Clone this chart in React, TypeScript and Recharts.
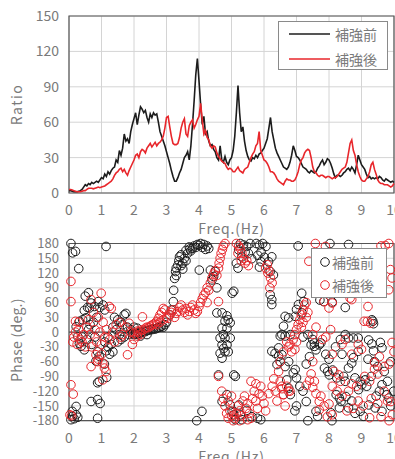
import { CartesianGrid, Legend, Line, LineChart, ReferenceArea, ReferenceLine, Scatter, ScatterChart, XAxis, YAxis } from "recharts"

const FONT = '"Noto Sans CJK JP", "Noto Sans", sans-serif'
const BLACK = "#1c1c1c"
const RED = "#e8262b"
const GRID = "#d4d4d4"
const FRAME = "#555555"
const TEXT = "#7a7a7a"

const seriesNames = ["補強前", "補強後"]
const freqTicks = [0, 1, 2, 3, 4, 5, 6, 7, 8, 9, 10]
const ratioTicks = [0, 30, 60, 90, 120, 150]
const phaseTicks = [-180, -150, -120, -90, -60, -30, 0, 30, 60, 90, 120, 150, 180]

// spectral ratio, sampled every 0.05 Hz from 0 to 10 Hz (one row per Hz)
const ratioStep = 0.05
const ratioBefore = [
  2, 2, 1.5, 1, 1, 1, 1.5, 2, 3, 5, 7, 6, 8, 7, 9, 8, 9, 10, 9, 11,
  13, 12, 16, 14, 18, 16, 19, 21, 22, 28, 26, 36, 32, 38, 50, 44, 46, 42, 52, 58,
  63, 68, 58, 66, 73, 71, 68, 70, 64, 60, 67, 64, 68, 66, 67, 60, 52, 48, 44, 40,
  35, 30, 25, 19, 14, 10, 10, 13, 17, 20, 25, 30, 32, 35, 28, 40, 58, 78, 100, 114,
  95, 75, 58, 65, 50, 52, 44, 40, 41, 37, 35, 30, 28, 40, 28, 26, 31, 26, 24, 28,
  30, 36, 48, 68, 91, 68, 52, 56, 44, 36, 31, 28, 27, 30, 29, 32, 30, 33, 34, 36,
  38, 42, 46, 55, 64, 52, 45, 38, 34, 31, 28, 25, 22, 21, 20, 22, 26, 32, 40, 36,
  31, 30, 28, 25, 22, 21, 20, 18, 17, 19, 18, 17, 18, 21, 23, 26, 28, 24, 26, 29,
  28, 25, 21, 16, 13, 15, 15, 14, 15, 17, 18, 20, 21, 19, 22, 20, 17, 24, 32, 28,
  24, 22, 20, 16, 13, 14, 12, 13, 12, 13, 12, 14, 13, 11, 10, 12, 11, 10, 9, 10,
  9,
]
const ratioAfter = [
  3, 3, 2.5, 2, 1.5, 1, 1, 1, 1.5, 2, 2, 3, 4, 4, 4, 3.5, 4, 4.5, 5, 4.5,
  5, 5.5, 6, 7, 8, 9, 10, 12, 15, 17, 18, 20, 21, 18, 20, 17, 15, 19, 22, 25,
  28, 32, 33, 30, 35, 37, 36, 34, 38, 40, 42, 39, 41, 43, 40, 42, 43, 45, 48, 55,
  64, 65, 56, 48, 42, 41, 41, 42, 47, 55, 60, 63, 50, 48, 57, 60, 62, 55, 58, 62,
  65, 76, 62, 50, 53, 47, 45, 40, 38, 40, 39, 34, 31, 29, 27, 26, 25, 22, 20, 21,
  20, 18, 18, 20, 22, 19, 18, 17, 20, 21, 22, 26, 30, 33, 35, 40, 42, 52, 36, 32,
  28, 27, 25, 22, 18, 18, 17, 15, 12, 10, 9, 8, 7, 10, 12, 11, 11, 10, 10, 11,
  14, 18, 24, 28, 30, 34, 36, 37, 36, 30, 22, 18, 17, 15, 14, 15, 15, 14, 13, 14,
  14, 13, 12, 13, 13, 14, 16, 18, 20, 21, 22, 26, 34, 42, 45, 36, 32, 24, 18, 14,
  11, 10, 10, 12, 14, 18, 24, 26, 20, 16, 11, 9, 8, 8, 7, 7, 7, 6, 5, 6,
  8,
]

// phase points [freq, deg]
const phaseBeforeLow = [
  [0.06, 180], [0.11, 161], [0.2, 164], [0.3, 129], [1.14, 174],
  [0.06, -178], [0.1, -161], [0.22, -151], [0.22, -168], [0.11, -171], [0.27, -173], [0.16, -176],
  [0.5, 73], [0.6, 80], [0.68, 59], [0.57, 50], [0.47, 44], [0.63, 49], [0.78, 52], [0.9, 62], [0.95, 50], [1.05, 55], [1.1, 45],
  [0.32, 22], [0.42, 25], [0.52, 29], [0.22, 11], [0.27, -9], [0.37, -29], [0.47, -36], [0.32, -23], [0.4, -10], [0.55, -15],
  [0.6, 5], [0.7, -25], [0.8, -10], [0.65, 15], [0.75, 20], [0.85, 30],
  [1.1, -20], [1.2, -30], [1.15, -38], [1.25, -45], [1.35, -40], [1.3, -25], [1.2, -10],
  [0.93, -49], [1.09, -65], [0.83, -59], [0.88, -40],
  [1.16, -92], [0.93, -100], [0.88, -103],
  [0.68, -141], [0.88, -137], [0.96, -145], [0.88, -175],
  [1.4, 30], [1.5, 25], [1.6, 20], [1.7, 35], [1.75, 38], [1.65, 15], [1.8, 10], [1.9, 5], [1.45, 5],
  [1.55, -5], [1.35, 10], [1.7, -10], [1.85, -5], [1.95, -3], [1.6, -15], [1.5, -20],
  [2.0, -5], [2.05, -3], [2.1, -4], [2.15, -1], [2.2, -2], [2.25, 0], [2.3, 2], [2.35, 1], [2.4, 3], [2.45, 4],
  [2.5, 5], [2.55, 5], [2.6, 7], [2.65, 6], [2.7, 8], [2.75, 9], [2.8, 10], [2.85, 12], [2.9, 10], [2.95, 15],
  [2.2, -8], [2.4, -5], [2.1, 8], [2.0, 10],
]
const phaseBeforeMid = [
  [3.0, 20], [3.1, 35], [3.15, 45], [3.21, 62], [3.22, 85], [3.25, 109], [3.28, 123], [3.3, 115], [3.35, 136], [3.38, 145],
  [3.4, 153], [3.45, 157], [3.5, 140], [3.55, 150], [3.6, 166], [3.65, 160], [3.7, 173], [3.72, 169], [3.75, 165], [3.8, 170],
  [3.85, 175], [3.9, 172], [3.95, 178], [4.0, 176], [4.05, 180], [4.1, 172], [4.15, 178], [4.2, 168], [4.25, 175], [4.3, 170],
  [3.5, 128], [3.6, 145], [3.45, 135], [3.3, 130], [4.01, 126], [3.93, -180],
  [4.35, 126], [4.4, 106], [4.45, 113], [4.5, 123], [4.55, 90], [5.02, 79], [5.07, 83],
  [4.55, 39], [4.71, 39], [4.86, 33], [4.9, 25], [4.8, 22], [4.96, 19], [4.86, 8], [4.71, 8], [4.75, -5], [4.65, -12],
  [4.8, -12], [4.96, -12], [4.86, -26], [4.71, -26], [4.76, -33], [4.8, -40], [4.9, -40], [4.65, -43], [4.71, -53],
  [4.6, -87], [5.07, -87], [5.12, -90],
  [5.27, 180], [5.37, 177], [5.47, 174], [5.57, 180], [5.42, 163], [5.32, 153], [5.62, 149], [5.22, 167], [5.52, 160],
  [5.76, 180], [5.86, 177], [5.96, 180], [6.06, 174], [5.91, 163], [5.81, 156], [5.91, 143], [5.86, 132], [6.01, 152],
  [6.14, 143], [6.24, 153], [6.19, 123], [6.29, 116], [6.19, 76], [6.24, 66], [6.24, 56], [5.15, 140], [5.2, 130],
  [4.09, -161], [4.71, -141], [4.86, -127], [4.96, -148], [5.02, -161], [5.07, -168], [5.22, -148], [5.27, -168],
  [5.12, -178], [5.32, -178], [5.47, -159], [5.63, -172], [5.8, -175], [5.9, -178],
  [6.24, -39], [6.34, -43], [6.45, -49], [6.5, -60], [6.4, -66], [6.45, -32], [6.5, -8],
]
const phaseBeforeHigh = [
  [7.05, 175], [8.03, 180], [8.6, 178], [7.16, 79], [7.22, 62], [7.06, 56], [7.0, 46], [7.17, 39], [6.96, 32], [6.65, 32],
  [6.76, 29], [6.6, 12], [7.72, 65], [7.84, 62], [8.1, 61], [8.5, 50], [9.32, 25], [9.37, 17], [9.35, 22],
  [6.55, -5], [6.65, -8], [6.81, -5], [7.2, -10], [7.35, -5], [7.5, -15], [7.55, -22], [7.55, -29], [7.6, -36], [7.7, -26],
  [7.75, -22], [7.45, -26], [8.35, -15], [8.5, -5], [8.6, -12], [8.75, -12], [8.9, -12], [9.22, -16], [9.32, -24], [9.37, -38],
  [8.75, -52], [8.7, -63], [8.6, -73], [8.9, -39], [6.55, -46], [6.76, -60], [6.65, -70],
  [7.86, -73], [7.96, -80], [8.01, -87], [8.11, -77], [8.24, -93], [6.9, -83], [6.96, -76], [7.0, -93],
  [8.8, -93], [8.96, -100], [9.01, -107], [8.91, -117], [9.11, -97], [9.16, -110],
  [8.22, -127], [8.32, -134], [8.37, -141], [8.52, -131], [9.63, -107], [9.78, -127], [9.84, -134], [9.99, -120],
  [7.3, -141], [7.6, -161], [7.65, -171], [8.06, -164], [8.32, -154], [8.6, -154], [8.96, -161], [9.06, -171],
  [9.22, -148], [9.42, -154], [9.63, -161], [7.35, -180], [8.09, -180], [6.7, -97], [6.76, -114], [6.81, -127],
  [9.58, -21], [9.63, -32], [9.4, -60], [9.5, -70], [9.7, -80], [9.9, -60], [9.2, -55], [8.4, -45], [8.2, -30],
  [7.9, -45], [8.0, -55], [7.4, -50], [7.3, -65], [7.1, -110], [7.2, -120], [7.0, -150], [6.95, -160], [9.8, -100],
  [9.9, -150], [9.45, -130], [9.55, -120], [8.7, -140], [8.8, -165], [9.3, -90], [8.45, -90], [8.5, -100],
]
const phaseAfterLow = [
  [0.06, 103], [0.06, 62], [0.06, -107], [0.13, -126], [0.03, -168], [0.08, -170],
  [0.68, 66], [0.99, 79], [1.24, 52], [1.3, 48], [0.75, 40], [0.9, 30], [1.05, 20], [0.6, 25],
  [0.2, 22], [0.3, 5], [0.15, -10], [0.25, -25], [0.35, -15], [0.45, -5], [0.55, 10], [0.65, -5], [0.8, 5], [0.95, 0],
  [1.1, -10], [0.5, -30], [0.4, -20], [0.7, -30], [0.85, -20], [1.0, -25], [1.15, 5], [1.25, -15], [1.35, 0], [1.45, 15],
  [1.55, 20], [1.65, -5], [1.75, 10], [1.85, 18], [1.4, -20], [1.6, -10], [0.3, 20], [0.2, 0], [0.12, -20],
  [0.68, -70], [0.83, -46], [0.88, -60], [1.04, -63], [1.09, -73], [1.14, -80], [1.04, -97], [0.9, -55], [1.0, -45],
  [1.8, -46], [1.95, -25], [2.0, -15], [1.9, 0], [2.26, 31],
  [2.0, -2], [2.1, 2], [2.15, 0], [2.2, 4], [2.3, 5], [2.35, 8], [2.4, 10], [2.45, 9], [2.5, 12], [2.55, 14],
  [2.6, 16], [2.65, 18], [2.7, 22], [2.75, 28], [2.8, 35], [2.85, 40], [2.9, 48], [2.95, 45], [2.8, 20], [2.9, 25],
  [2.7, 15], [3.0, 30], [2.1, -8], [2.2, -5],
]
const phaseAfterMid = [
  [3.05, 28], [3.1, 35], [3.15, 40], [3.2, 45], [3.25, 30], [3.3, 38], [3.35, 42], [3.4, 50], [3.45, 55], [3.5, 45],
  [3.55, 40], [3.6, 48], [3.65, 35], [3.7, 42], [3.75, 50], [3.8, 55], [3.85, 45], [3.9, 38], [3.95, 42], [4.0, 52],
  [4.05, 60], [4.1, 68], [4.15, 75], [4.2, 80], [4.25, 90], [4.3, 85], [4.35, 100], [4.4, 110], [4.45, 118], [4.5, 125],
  [4.55, 115], [4.6, 130], [4.62, 140], [4.65, 150], [4.68, 160], [4.72, 168], [4.75, 175], [4.8, 180], [4.6, 62], [4.25, 60],
  [5.15, 180], [5.22, 175], [5.27, 170], [5.32, 160], [5.37, 150], [5.42, 140], [5.47, 145], [5.52, 135], [5.2, 160], [5.3, 145],
  [6.05, 130], [6.1, 137], [6.15, 125], [6.2, 110], [6.25, 100], [6.18, 90], [6.12, 120],
  [4.6, -90], [4.7, -120], [4.75, -135], [4.8, -150], [4.85, -165], [4.9, -175], [4.95, -160], [5.0, -170], [5.05, -180],
  [5.1, -175], [5.15, -165], [5.2, -150], [5.25, -160], [5.3, -170], [5.35, -140], [5.4, -130], [5.45, -155], [5.5, -145],
  [5.55, -165], [5.6, -175], [5.65, -135], [5.7, -120], [5.75, -140], [5.8, -155], [5.85, -125], [5.9, -110], [5.95, -130],
  [6.0, -145], [6.05, -160], [5.25, -180], [5.5, -178], [4.9, -140], [5.0, -130], [5.6, -100], [5.75, -105],
  [6.15, -125], [6.25, -110], [6.3, -95], [6.35, -120], [6.45, -80], [6.5, -60], [6.55, -115], [6.6, -127], [6.55, -110],
  [6.6, -40], [6.7, -20], [6.75, -30], [6.8, -25], [6.85, -40], [6.9, -15], [6.95, -5], [7.0, 5], [7.05, 15], [7.1, 25],
  [7.15, 35], [7.2, 45], [7.25, 55], [7.3, 60], [7.2, 20], [7.15, 10], [7.3, 30], [7.35, 40], [6.95, -35], [7.0, -20],
  [6.4, -140], [6.5, -100], [6.65, -150], [6.75, -120],
]
const phaseAfterHigh = [
  [7.58, 180], [7.89, 174], [7.38, 144], [9.84, 180], [9.89, 127], [9.73, 176], [9.6, 175],
  [8.1, 59], [8.0, 49], [7.85, 62], [8.65, 69], [8.7, 66], [9.2, 52], [9.08, 22], [9.18, 22], [9.28, 18], [9.94, 110], [9.84, 86],
  [7.5, -5], [7.6, 10], [7.8, -15], [7.9, -10], [8.05, 5], [8.4, -25], [8.5, -15], [8.9, -25], [9.0, -35], [8.7, -45],
  [9.94, -21], [9.55, -50], [9.4, -62], [8.1, -45],
  [7.5, -60], [7.45, -85], [7.4, -98], [7.55, -100], [7.5, -112], [7.3, -108],
  [8.15, -80], [8.3, -87], [8.35, -100], [8.1, -110], [8.25, -120], [8.4, -130], [6.7, -110], [6.8, -120], [6.6, -127],
  [8.85, -110], [9.1, -90], [9.25, -100], [9.4, -75], [9.5, -85], [9.7, -70], [9.85, -65],
  [7.7, -141], [7.85, -150], [7.7, -158], [8.0, -146], [8.9, -140], [9.05, -150], [8.55, -160], [8.75, -155], [9.3, -135],
  [9.5, -145], [9.9, -141], [9.95, -168], [9.85, -180], [9.6, -172], [9.25, -174], [8.1, -168], [7.95, -172],
  [7.6, -125], [7.75, -130], [8.6, -120], [8.7, -105], [9.7, -120], [9.8, -140], [10.0, -40],
]

const ratioData = ratioBefore.map((v, i) => ({ f: +(i * ratioStep).toFixed(2), before: v, after: ratioAfter[i] }))
const toPoints = (rows: number[][]) => rows.map(([f, deg]) => ({ f, deg }))
const phaseBefore = toPoints([...phaseBeforeLow, ...phaseBeforeMid, ...phaseBeforeHigh])
const phaseAfter = toPoints([...phaseAfterLow, ...phaseAfterMid, ...phaseAfterHigh])

const tickStyle = { fill: TEXT, fontSize: 14, fontFamily: FONT }
const smallTickStyle = { fill: TEXT, fontSize: 13, fontFamily: FONT }

const ringShape = (color: string) => (props: any) => (
  <circle cx={props.cx} cy={props.cy} r={4.3} fill="none" stroke={color} strokeWidth={1} />
)

function yTitle(text: string, dy = 0, spacing = 1.5) {
  return ({ viewBox }: any) => {
    const x = 16
    const y = viewBox.y + viewBox.height / 2 + dy
    return (
      <text x={x} y={y} transform={`rotate(-90 ${x} ${y})`} textAnchor="middle" dominantBaseline="central"
        fill={TEXT} fontSize={14} fontFamily={FONT} letterSpacing={spacing}>
        {text}
      </text>
    )
  }
}

function xTitle({ viewBox }: any) {
  return (
    <text x={viewBox.x + viewBox.width / 2} y={viewBox.y + viewBox.height + 17} textAnchor="middle"
      fill={TEXT} fontSize={14} fontFamily={FONT} letterSpacing={0.8}>
      Freq.(Hz)
    </text>
  )
}

function LineLegend() {
  const colors = [BLACK, RED]
  return (
    <div style={{ width: 108, height: 47, border: "1px solid #8a8a8a", background: "#fff", position: "relative" }}>
      {seriesNames.map((name, i) => (
        <div key={name} style={{ position: "absolute", left: 10, top: 3 + i * 25, height: 18, display: "flex", alignItems: "center" }}>
          <svg width={42} height={18}><line x1={0} x2={41} y1={9} y2={9} stroke={colors[i]} strokeWidth={1.6} /></svg>
          <span style={{ marginLeft: 4, fontSize: 14, color: TEXT, fontFamily: FONT, lineHeight: "18px" }}>{name}</span>
        </div>
      ))}
    </div>
  )
}

function ScatterLegend() {
  const colors = [BLACK, RED]
  return (
    <div style={{ width: 74, height: 48, border: "1px solid #8a8a8a", background: "#fff", position: "relative" }}>
      {seriesNames.map((name, i) => (
        <div key={name} style={{ position: "absolute", left: 7, top: 4 + i * 23, height: 18, display: "flex", alignItems: "center" }}>
          <svg width={12} height={18}><circle cx={6} cy={9} r={4.3} fill="none" stroke={colors[i]} strokeWidth={1} /></svg>
          <span style={{ marginLeft: 1, fontSize: 14, color: TEXT, fontFamily: FONT, lineHeight: "18px" }}>{name}</span>
        </div>
      ))}
    </div>
  )
}

export default function App() {
  return (
    <div style={{ position: "absolute", left: 0, top: 0, width: 395, height: 459, overflow: "hidden", background: "#fff" }}>
      <div style={{ position: "absolute", left: 0, top: 0 }}>
        <LineChart width={420} height={240} data={ratioData} margin={{ top: 16, right: 26, left: 0, bottom: 23 }}>
          <CartesianGrid stroke={GRID} strokeWidth={1} />
          <XAxis dataKey="f" type="number" domain={[0, 10]} ticks={freqTicks} interval={0} tick={tickStyle}
            tickLine={false} axisLine={false} height={24} tickMargin={6} label={{ content: xTitle }} />
          <YAxis type="number" domain={[0, 150]} ticks={ratioTicks} interval={0} tick={tickStyle} tickLine={false}
            axisLine={false} width={69} tickMargin={4} label={{ content: yTitle("Ratio") }} />
          <ReferenceArea x1={0} x2={10} y1={0} y2={150} fill="none" stroke={FRAME} strokeWidth={1.2} />
          <Line type="linear" dataKey="before" name={seriesNames[0]} stroke={BLACK} strokeWidth={1.6} dot={false} isAnimationActive={false} />
          <Line type="linear" dataKey="after" name={seriesNames[1]} stroke={RED} strokeWidth={1.6} dot={false} isAnimationActive={false} />
          <Legend layout="vertical" align="center" verticalAlign="middle" content={() => <LineLegend />}
            wrapperStyle={{ left: 278, top: 21, width: 110, height: 49 }} />
        </LineChart>
      </div>
      <div style={{ position: "absolute", left: 0, top: 230 }}>
        <ScatterChart width={420} height={240} margin={{ top: 13.5, right: 26, left: 0, bottom: 25.3 }}>
          <CartesianGrid stroke={GRID} strokeWidth={1} />
          <XAxis dataKey="f" type="number" domain={[0, 10]} ticks={freqTicks} interval={0} tick={tickStyle}
            tickLine={false} axisLine={false} height={24} tickMargin={6} label={{ content: xTitle }} />
          <YAxis dataKey="deg" type="number" domain={[-180, 180]} ticks={phaseTicks} interval={0} tick={smallTickStyle}
            tickLine={false} axisLine={false} width={69} tickMargin={4} label={{ content: yTitle("Phase (deg.)", 8, 0.3) }} />
          <ReferenceLine y={0} stroke={FRAME} strokeWidth={1.2} />
          <ReferenceArea x1={0} x2={10} y1={-180} y2={180} fill="none" stroke={FRAME} strokeWidth={1.2} />
          <Scatter name={seriesNames[0]} data={phaseBefore} shape={ringShape(BLACK)} isAnimationActive={false} />
          <Scatter name={seriesNames[1]} data={phaseAfter} shape={ringShape(RED)} isAnimationActive={false} />
          <Legend layout="vertical" align="center" verticalAlign="middle" content={() => <ScatterLegend />}
            wrapperStyle={{ left: 311, top: 18, width: 76, height: 50 }} />
        </ScatterChart>
      </div>
    </div>
  )
}
